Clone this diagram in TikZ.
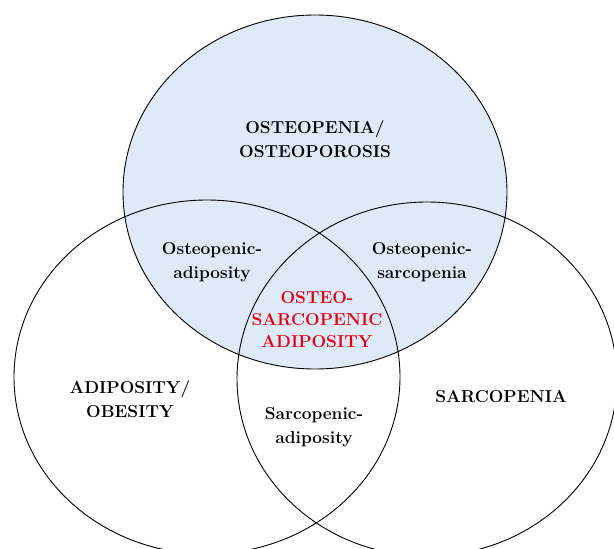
\documentclass[tikz,border=0pt]{standalone}
\usepackage{xcolor}
\definecolor{bonefill}{RGB}{222,234,247}
\definecolor{osared}{RGB}{230,0,18}
\begin{document}
\begin{tikzpicture}[
  x=1pt, y=-1pt,
  regiontext/.style={font=\bfseries\fontsize{17.3}{24}\selectfont, align=center},
  core/.style={font=\bfseries\fontsize{17.3}{22}\selectfont, align=center, text=osared},
  ring/.style={draw, line width=0.9pt}
]
\useasboundingbox (0,0) rectangle (614,549);
\clip (0,0) rectangle (614,549);

\fill[bonefill] (315,192) ellipse [x radius=192pt, y radius=177pt];
\draw[ring] (315,192) ellipse [x radius=192pt, y radius=177pt];
\draw[ring] (207,377) ellipse [x radius=193pt, y radius=177pt];
\draw[ring] (427,379) ellipse [x radius=190pt, y radius=177pt];

\node[regiontext] (osteo) at (315,139) {OSTEOPENIA/\\OSTEOPOROSIS};
\node[regiontext] (osteoadip) at (212,262) {Osteopenic-\\adiposity};
\node[regiontext] (osteosarc) at (422,262) {Osteopenic-\\sarcopenia};
\node[core] (osa) at (317,320) {OSTEO-\\SARCOPENIC\\ADIPOSITY};
\node[regiontext] (adip) at (130,399) {ADIPOSITY/\\OBESITY};
\node[regiontext] (sarc) at (501,397) {SARCOPENIA};
\node[regiontext] (sarcadip) at (314,427) {Sarcopenic-\\adiposity};
\end{tikzpicture}
\end{document}
